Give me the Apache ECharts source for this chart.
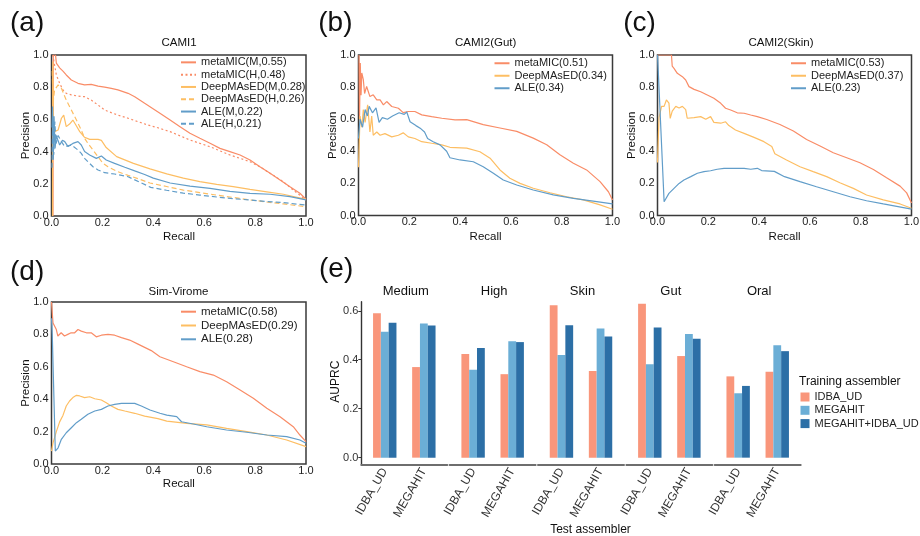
<!DOCTYPE html>
<html>
<head>
<meta charset="utf-8">
<script src="https://cdn.jsdelivr.net/npm/echarts@6/dist/echarts.min.js"></script>
<style>
html, body { margin: 0; padding: 0; background: #fff; }
#chart { width: 920px; height: 536px; }
</style>
</head>
<body>
<div id="chart"></div>
<script>
// ---- precision / recall curves, [recall, precision] ----
// (a) CAMI1
const cami1MetaM = [[0.006,0.0],[0.007,1.0],[0.016,1.0],[0.019,0.95],[0.032,0.92],[0.045,0.9],[0.058,0.876],[0.078,0.845],[0.104,0.824],[0.13,0.814],[0.156,0.818],[0.183,0.807],[0.209,0.8],[0.235,0.793],[0.261,0.783],[0.301,0.762],[0.327,0.741],[0.366,0.7],[0.405,0.66],[0.426,0.638],[0.466,0.596],[0.505,0.555],[0.544,0.514],[0.583,0.483],[0.623,0.452],[0.662,0.42],[0.701,0.4],[0.741,0.379],[0.78,0.348],[0.819,0.306],[0.859,0.265],[0.898,0.224],[0.937,0.182],[0.976,0.141],[1.0,0.105]];
const cami1MetaH = [[0.005,1.0],[0.013,0.93],[0.019,0.876],[0.032,0.824],[0.045,0.783],[0.058,0.762],[0.078,0.752],[0.104,0.745],[0.13,0.741],[0.156,0.72],[0.183,0.689],[0.209,0.658],[0.235,0.642],[0.261,0.627],[0.301,0.607],[0.34,0.586],[0.379,0.565],[0.418,0.548],[0.466,0.524],[0.544,0.472],[0.623,0.43],[0.701,0.379],[0.741,0.358],[0.78,0.337],[0.819,0.306],[0.859,0.265],[0.911,0.213],[0.95,0.161],[1.0,0.1]];
const cami1DeepM = [[0.004,0.0],[0.005,0.96],[0.008,0.5],[0.012,0.524],[0.026,0.534],[0.039,0.607],[0.048,0.627],[0.058,0.555],[0.071,0.571],[0.084,0.596],[0.098,0.559],[0.111,0.524],[0.13,0.489],[0.15,0.476],[0.183,0.476],[0.196,0.47],[0.215,0.425],[0.256,0.369],[0.322,0.327],[0.387,0.293],[0.453,0.262],[0.518,0.235],[0.583,0.213],[0.649,0.197],[0.714,0.182],[0.78,0.165],[0.846,0.15],[0.911,0.135],[1.0,0.103]];
const cami1DeepH = [[0.003,0.9],[0.006,0.7],[0.012,0.783],[0.026,0.814],[0.039,0.793],[0.058,0.72],[0.078,0.658],[0.098,0.596],[0.117,0.534],[0.13,0.483],[0.143,0.451],[0.163,0.41],[0.183,0.368],[0.202,0.327],[0.222,0.306],[0.261,0.275],[0.301,0.252],[0.34,0.232],[0.387,0.205],[0.452,0.183],[0.518,0.161],[0.583,0.145],[0.649,0.13],[0.714,0.115],[0.78,0.1],[0.846,0.087],[0.911,0.075],[1.0,0.058]];
const cami1AleM = [[0.002,0.55],[0.004,0.68],[0.007,0.35],[0.01,0.62],[0.014,0.42],[0.019,0.5],[0.025,0.472],[0.032,0.441],[0.043,0.47],[0.052,0.462],[0.065,0.431],[0.084,0.451],[0.104,0.462],[0.117,0.441],[0.13,0.4],[0.15,0.379],[0.176,0.358],[0.196,0.373],[0.215,0.348],[0.248,0.327],[0.288,0.303],[0.327,0.28],[0.366,0.258],[0.4,0.235],[0.466,0.205],[0.544,0.185],[0.623,0.172],[0.701,0.153],[0.78,0.141],[0.859,0.135],[0.937,0.12],[1.0,0.1]];
const cami1AleH = [[0.002,0.3],[0.005,0.62],[0.009,0.38],[0.013,0.586],[0.018,0.45],[0.026,0.5],[0.039,0.462],[0.052,0.431],[0.078,0.441],[0.104,0.41],[0.117,0.389],[0.13,0.358],[0.143,0.337],[0.163,0.306],[0.183,0.286],[0.209,0.269],[0.248,0.261],[0.301,0.244],[0.353,0.205],[0.39,0.178],[0.452,0.16],[0.518,0.142],[0.583,0.13],[0.649,0.118],[0.714,0.108],[0.78,0.099],[0.846,0.09],[0.911,0.083],[1.0,0.068]];
// (b) CAMI2(Gut)
const gutMeta = [[0.002,1.0],[0.004,0.6],[0.007,0.95],[0.01,0.75],[0.013,0.888],[0.019,0.846],[0.024,0.76],[0.032,0.804],[0.045,0.741],[0.058,0.752],[0.072,0.72],[0.085,0.72],[0.098,0.689],[0.111,0.71],[0.131,0.679],[0.157,0.668],[0.176,0.641],[0.196,0.648],[0.222,0.648],[0.249,0.627],[0.288,0.616],[0.328,0.606],[0.38,0.596],[0.426,0.597],[0.491,0.566],[0.557,0.545],[0.623,0.524],[0.688,0.482],[0.741,0.441],[0.793,0.378],[0.846,0.326],[0.898,0.284],[0.951,0.211],[0.984,0.148],[1.0,0.096]];
const gutDeep = [[0.0,0.3],[0.006,0.62],[0.013,0.55],[0.019,0.66],[0.026,0.58],[0.036,0.69],[0.045,0.52],[0.052,0.62],[0.058,0.5],[0.072,0.52],[0.085,0.5],[0.104,0.51],[0.131,0.49],[0.157,0.5],[0.176,0.515],[0.196,0.49],[0.222,0.48],[0.249,0.46],[0.288,0.45],[0.328,0.44],[0.36,0.425],[0.426,0.42],[0.478,0.397],[0.518,0.357],[0.557,0.284],[0.596,0.232],[0.636,0.2],[0.688,0.17],[0.754,0.142],[0.82,0.117],[0.885,0.097],[0.951,0.066],[1.0,0.039]];
const gutAle = [[0.0,0.48],[0.006,0.6],[0.016,0.55],[0.026,0.66],[0.035,0.62],[0.042,0.68],[0.055,0.64],[0.069,0.67],[0.081,0.58],[0.094,0.61],[0.114,0.6],[0.134,0.62],[0.16,0.64],[0.18,0.63],[0.19,0.645],[0.203,0.584],[0.226,0.56],[0.246,0.54],[0.26,0.52],[0.272,0.48],[0.294,0.46],[0.321,0.44],[0.347,0.4],[0.36,0.36],[0.4,0.346],[0.452,0.335],[0.491,0.304],[0.531,0.263],[0.57,0.221],[0.623,0.19],[0.688,0.159],[0.767,0.128],[0.846,0.107],[0.924,0.09],[1.0,0.072]];
// (c) CAMI2(Skin)
const skinMeta = [[0.0,1.0],[0.055,1.0],[0.058,0.93],[0.065,0.917],[0.078,0.886],[0.098,0.865],[0.111,0.844],[0.124,0.803],[0.144,0.786],[0.17,0.771],[0.196,0.751],[0.222,0.73],[0.249,0.699],[0.268,0.668],[0.288,0.657],[0.314,0.64],[0.341,0.637],[0.367,0.626],[0.393,0.616],[0.43,0.598],[0.482,0.567],[0.535,0.526],[0.587,0.474],[0.64,0.433],[0.692,0.391],[0.745,0.36],[0.797,0.329],[0.85,0.287],[0.902,0.235],[0.955,0.183],[0.981,0.141],[1.0,0.078]];
const skinDeep = [[0.0,0.33],[0.006,0.61],[0.016,0.68],[0.026,0.68],[0.035,0.72],[0.045,0.7],[0.05,0.605],[0.058,0.65],[0.072,0.68],[0.085,0.67],[0.098,0.68],[0.111,0.66],[0.117,0.606],[0.144,0.61],[0.17,0.616],[0.19,0.6],[0.209,0.616],[0.222,0.58],[0.249,0.575],[0.268,0.584],[0.281,0.56],[0.307,0.533],[0.341,0.512],[0.38,0.487],[0.419,0.46],[0.45,0.43],[0.462,0.385],[0.508,0.346],[0.561,0.304],[0.613,0.273],[0.666,0.242],[0.718,0.204],[0.771,0.169],[0.823,0.128],[0.889,0.097],[0.955,0.072],[1.0,0.045]];
const skinAle = [[0.0,1.0],[0.003,0.9],[0.026,0.086],[0.045,0.138],[0.065,0.169],[0.085,0.2],[0.104,0.221],[0.131,0.242],[0.157,0.263],[0.183,0.273],[0.209,0.279],[0.235,0.288],[0.262,0.294],[0.301,0.294],[0.341,0.294],[0.367,0.288],[0.393,0.294],[0.41,0.28],[0.46,0.275],[0.5,0.242],[0.561,0.211],[0.626,0.179],[0.692,0.148],[0.758,0.117],[0.823,0.092],[0.889,0.072],[1.0,0.04]];
// (d) Sim-Virome
const viroMeta = [[0.0,1.0],[0.006,0.87],[0.013,0.86],[0.019,0.83],[0.025,0.79],[0.038,0.81],[0.051,0.79],[0.064,0.8],[0.077,0.81],[0.091,0.81],[0.104,0.83],[0.117,0.82],[0.137,0.81],[0.156,0.81],[0.176,0.785],[0.196,0.795],[0.222,0.8],[0.248,0.795],[0.275,0.78],[0.307,0.765],[0.34,0.74],[0.366,0.72],[0.392,0.7],[0.426,0.662],[0.479,0.631],[0.531,0.6],[0.583,0.57],[0.636,0.549],[0.688,0.508],[0.741,0.457],[0.793,0.406],[0.846,0.344],[0.898,0.292],[0.95,0.23],[0.976,0.179],[1.0,0.138]];
const viroDeep = [[0.0,0.08],[0.006,0.13],[0.019,0.2],[0.032,0.26],[0.045,0.3],[0.058,0.358],[0.071,0.389],[0.084,0.41],[0.098,0.424],[0.111,0.42],[0.13,0.41],[0.15,0.415],[0.17,0.403],[0.196,0.395],[0.215,0.378],[0.235,0.358],[0.261,0.337],[0.288,0.327],[0.327,0.313],[0.366,0.296],[0.418,0.28],[0.453,0.265],[0.531,0.251],[0.61,0.241],[0.688,0.22],[0.767,0.2],[0.846,0.179],[0.924,0.148],[1.0,0.107]];
const viroAle = [[0.0,0.9],[0.003,0.8],[0.015,0.08],[0.026,0.1],[0.038,0.15],[0.058,0.193],[0.078,0.224],[0.098,0.255],[0.117,0.276],[0.143,0.307],[0.17,0.327],[0.196,0.337],[0.222,0.358],[0.248,0.368],[0.275,0.374],[0.301,0.374],[0.327,0.374],[0.353,0.358],[0.387,0.333],[0.426,0.313],[0.453,0.302],[0.492,0.292],[0.511,0.261],[0.557,0.247],[0.61,0.23],[0.688,0.21],[0.767,0.196],[0.846,0.179],[0.924,0.169],[0.976,0.148],[1.0,0.128]];

// ---- (e) AUPRC bars ----
const facets = ["Medium", "High", "Skin", "Gut", "Oral"];
const testAssemblers = ["IDBA_UD", "MEGAHIT"];
const trainAssemblers = ["IDBA_UD", "MEGAHIT", "MEGAHIT+IDBA_UD"];
// per facet: [test IDBA_UD, test MEGAHIT]
const auprcIdba = [[0.590, 0.370], [0.423, 0.341], [0.622, 0.354], [0.629, 0.415], [0.332, 0.351]];
const auprcMegahit = [[0.514, 0.548], [0.359, 0.475], [0.419, 0.528], [0.382, 0.505], [0.263, 0.459]];
const auprcBoth = [[0.551, 0.540], [0.448, 0.472], [0.541, 0.495], [0.532, 0.486], [0.293, 0.435]];
const auprcTicks = [0, 0.2, 0.4, 0.6];

const FONT = '"Liberation Sans", Arial, Helvetica, sans-serif';
const C_META = "#F98C67", C_DEEP = "#FDBE63", C_ALE = "#619DC9";
const C_BARS = ["#F9967B", "#6BAED6", "#2C6FA6"];

const chart = echarts.init(document.getElementById("chart"));

// PR panels: a, b, c, d
const prGrids = [
  { left: 51.5, top: 55, width: 254.5, height: 161 },
  { left: 358.5, top: 55, width: 254, height: 160.5 },
  { left: 657.5, top: 55, width: 254, height: 160.5 },
  { left: 51.5, top: 302, width: 254.5, height: 162 }
];

const grid = [], xAxis = [], yAxis = [], series = [], legend = [];

prGrids.forEach((g) => {
  grid.push(Object.assign({ show: true, borderColor: "#3a3a3a", borderWidth: 1.5, backgroundColor: "transparent", containLabel: false, outerBoundsMode: "none" }, g));
  const lab = { formatter: (v) => v.toFixed(1), fontSize: 11, color: "#222", fontFamily: FONT };
  xAxis.push({ gridIndex: grid.length - 1, type: "value", min: 0, max: 1, interval: 0.2,
    axisLine: { show: false }, axisTick: { show: false }, splitLine: { show: false },
    axisLabel: Object.assign({ margin: 1 }, lab) });
  yAxis.push({ gridIndex: grid.length - 1, type: "value", min: 0, max: 1, interval: 0.2,
    axisLine: { show: false }, axisTick: { show: false }, splitLine: { show: false },
    axisLabel: Object.assign({ margin: 3 }, lab) });
});

function curve(gi, name, data, color, dash) {
  series.push({
    type: "line", name: name, xAxisIndex: gi, yAxisIndex: gi, data: data,
    symbol: "none", showSymbol: false, animation: false,
    itemStyle: { color: color },
    lineStyle: { color: color, width: 1.2, type: dash || "solid" }
  });
}

curve(0, "metaMIC(M,0.55)", cami1MetaM, C_META);
curve(0, "metaMIC(H,0.48)", cami1MetaH, C_META, [2, 2.5]);
curve(0, "DeepMAsED(M,0.28)", cami1DeepM, C_DEEP);
curve(0, "DeepMAsED(H,0.26)", cami1DeepH, C_DEEP, [5, 3]);
curve(0, "ALE(M,0.22)", cami1AleM, C_ALE);
curve(0, "ALE(H,0.21)", cami1AleH, C_ALE, [5, 3]);
curve(1, "metaMIC(0.51)", gutMeta, C_META);
curve(1, "DeepMAsED(0.34)", gutDeep, C_DEEP);
curve(1, "ALE(0.34)", gutAle, C_ALE);
curve(2, "metaMIC(0.53)", skinMeta, C_META);
curve(2, "DeepMAsED(0.37)", skinDeep, C_DEEP);
curve(2, "ALE(0.23)", skinAle, C_ALE);
curve(3, "metaMIC(0.58)", viroMeta, C_META);
curve(3, "DeepMAsED(0.29)", viroDeep, C_DEEP);
curve(3, "ALE(0.28)", viroAle, C_ALE);

function prLegend(names, left, top, pitch, size) {
  legend.push({
    data: names, orient: "vertical", left: left, top: top, padding: 0,
    itemWidth: 15, itemHeight: pitch, itemGap: 0, selectedMode: false,
    // hide the marker that ECharts puts on line legend icons, keep the line
    itemStyle: { color: "rgba(0,0,0,0)", borderWidth: 0, opacity: 0 },
    textStyle: { fontSize: size, color: "#222", fontFamily: FONT, lineHeight: pitch }
  });
}
prLegend(["metaMIC(M,0.55)", "metaMIC(H,0.48)", "DeepMAsED(M,0.28)", "DeepMAsED(H,0.26)", "ALE(M,0.22)", "ALE(H,0.21)"], 180, 56.2, 12.3, 11);
prLegend(["metaMIC(0.51)", "DeepMAsED(0.34)", "ALE(0.34)"], 493.5, 57, 12.5, 11);
prLegend(["metaMIC(0.53)", "DeepMAsED(0.37)", "ALE(0.23)"], 790, 57, 12.5, 11);
prLegend(["metaMIC(0.58)", "DeepMAsED(0.29)", "ALE(0.28)"], 180, 304.8, 13.8, 11.5);

// (e) facets
const facetLeft = 361.3, facetPitch = 88.35, facetWidth = 86;
facets.forEach((f, i) => {
  const gi = grid.length;
  grid.push({ left: facetLeft + i * facetPitch, top: 301.7, width: facetWidth, height: 163.3, containLabel: false, outerBoundsMode: "none" });
  xAxis.push({ gridIndex: gi, type: "value", min: 0.4, max: 2.6,
    axisLine: { onZero: false, lineStyle: { color: "#6e6e6e", width: 2 } },
    axisTick: { show: false }, splitLine: { show: false },
    axisLabel: { customValues: [1, 2], formatter: (v) => testAssemblers[Math.round(v) - 1],
      rotate: 60, fontSize: 12, color: "#333", margin: 4, fontFamily: FONT } });
  yAxis.push({ gridIndex: gi, type: "value", min: -0.03, max: 0.637, show: i === 0,
    axisLine: { show: true, onZero: false, lineStyle: { color: "#333", width: 1.4 } },
    axisTick: { show: true, length: 3, customValues: auprcTicks, lineStyle: { color: "#333" } },
    splitLine: { show: false },
    axisLabel: { customValues: auprcTicks, formatter: (v) => v.toFixed(1), fontSize: 11, color: "#333", margin: 3, fontFamily: FONT } });
  [auprcIdba, auprcMegahit, auprcBoth].forEach((arr, k) => {
    series.push({
      type: "bar", name: trainAssemblers[k], xAxisIndex: gi, yAxisIndex: gi,
      barWidth: 7.8, barGap: "0%", animation: false,
      itemStyle: { color: C_BARS[k] },
      data: [[1, arr[i][0]], [2, arr[i][1]]]
    });
  });
});

legend.push({
  data: trainAssemblers, orient: "vertical", left: 800.5, top: 391.5, padding: 0,
  icon: "rect", itemWidth: 9, itemHeight: 9, itemGap: 2.3, selectedMode: false,
  textStyle: { fontSize: 11, color: "#222", fontFamily: FONT, lineHeight: 9 }
});

function txt(x, y, s, size, opts) {
  opts = opts || {};
  const align = opts.align || "center";
  return {
    type: "text", x: x, y: y, rotation: opts.rot || 0, silent: true,
    style: { text: s, fill: "#111", fontSize: size, fontFamily: FONT,
      align: align, verticalAlign: "middle", textAlign: align, textVerticalAlign: "middle" }
  };
}

const graphic = [
  txt(10, 23.3, "(a)", 28, { align: "left" }),
  txt(318.3, 23.3, "(b)", 28, { align: "left" }),
  txt(623.3, 23.3, "(c)", 28, { align: "left" }),
  txt(10, 272.5, "(d)", 28, { align: "left" }),
  txt(319, 269.5, "(e)", 28, { align: "left" }),
  txt(179, 43.3, "CAMI1", 11.5),
  txt(485.7, 43.3, "CAMI2(Gut)", 11.5),
  txt(781, 43.3, "CAMI2(Skin)", 11.5),
  txt(178.5, 292, "Sim-Virome", 11.5),
  txt(25.7, 135.5, "Precision", 11.5, { rot: Math.PI / 2 }),
  txt(333.3, 135.3, "Precision", 11.5, { rot: Math.PI / 2 }),
  txt(632.3, 135.3, "Precision", 11.5, { rot: Math.PI / 2 }),
  txt(25.7, 383, "Precision", 11.5, { rot: Math.PI / 2 }),
  txt(179, 236.5, "Recall", 11.5),
  txt(485.6, 236.5, "Recall", 11.5),
  txt(784.6, 236.5, "Recall", 11.5),
  txt(178.8, 484, "Recall", 11.5),
  txt(335.3, 381.7, "AUPRC", 12, { rot: Math.PI / 2 }),
  txt(590.5, 530, "Test assembler", 12),
  txt(799, 381.7, "Training assembler", 12, { align: "left" })
];
facets.forEach((f, i) => {
  graphic.push(txt(facetLeft + i * facetPitch + facetWidth / 2 + 1.5, 291.7, f, 13));
});

chart.setOption({
  animation: false,
  textStyle: { fontFamily: FONT },
  grid: grid,
  xAxis: xAxis,
  yAxis: yAxis,
  legend: legend,
  series: series,
  graphic: graphic
});
</script>
</body>
</html>
